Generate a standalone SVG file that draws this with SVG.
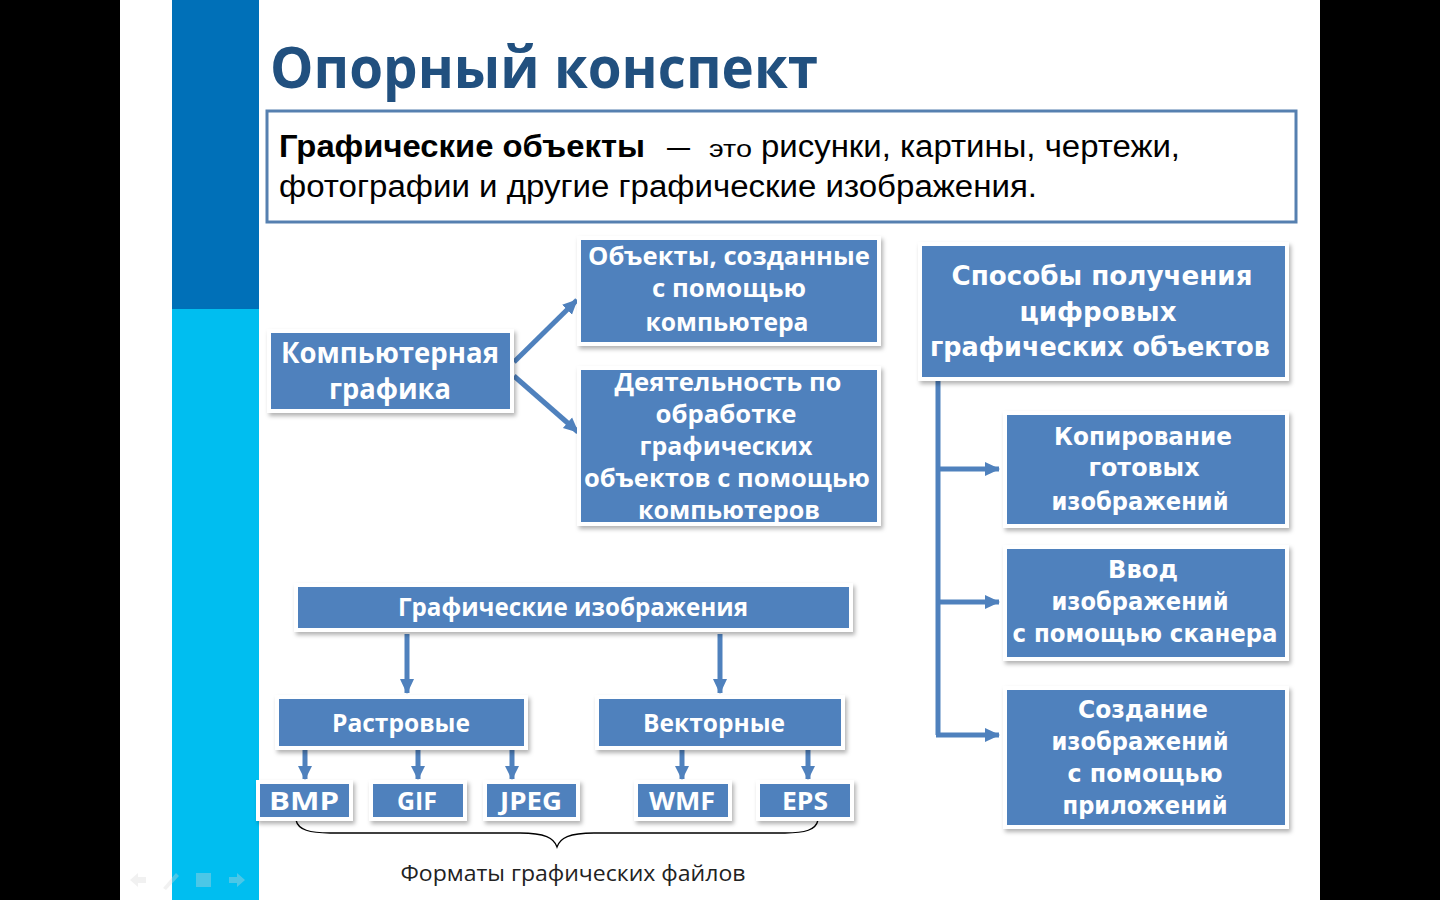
<svg xmlns="http://www.w3.org/2000/svg" width="1440" height="900" viewBox="0 0 1440 900">
<defs>
<filter id="sh" x="-10%" y="-20%" width="120%" height="150%">
<feDropShadow dx="2" dy="3" stdDeviation="2" flood-color="#000" flood-opacity="0.3"/>
</filter>
<marker id="ah" markerUnits="userSpaceOnUse" markerWidth="16" markerHeight="16" viewBox="0 0 16 16" refX="14" refY="8" orient="auto">
<path d="M0,1 L15,8 L0,15 Z" fill="#4F81BD"/>
</marker>
<marker id="ahs" markerUnits="userSpaceOnUse" markerWidth="16" markerHeight="16" viewBox="0 0 16 16" refX="14" refY="8" orient="auto">
<path d="M1,1 L15,8 L1,15 Z" fill="#4F81BD"/>
</marker>
</defs>
<style>
.frame{fill:#fff;filter:url(#sh)}
.box{fill:#4F81BD}
.t{font-family:"Open Sans","Liberation Sans",sans-serif;font-weight:bold;fill:#fff;text-anchor:middle}
.v{font-family:"DejaVu Sans","Liberation Sans",sans-serif;font-weight:bold;fill:#fff;text-anchor:middle}
.c{stroke:#4F81BD;stroke-width:5;fill:none}
.def{font-family:"Liberation Sans",Arial,sans-serif;fill:#000}
</style>
<rect x="0" y="0" width="1440" height="900" fill="#000"/>
<rect x="120" y="0" width="1200" height="900" fill="#fff"/>
<rect x="172" y="0" width="87" height="309" fill="#0070B8"/>
<rect x="172" y="309" width="87" height="591" fill="#00BEF0"/>
<g opacity="0.35" fill="#d8d8d8">
<path d="M130,880 L138,873 L138,877 L146,877 L146,883 L138,883 L138,887 Z"/>
<path d="M163,888 L176,873 L179,876 L166,890 Z"/>
<rect x="196" y="873" width="15" height="14"/>
<path d="M245,880 L237,873 L237,877 L229,877 L229,883 L237,883 L237,887 Z"/>
</g>
<text x="270" y="88" font-family="'Open Sans','Liberation Sans',sans-serif" font-weight="bold" font-size="58" fill="#21507F" textLength="548" lengthAdjust="spacingAndGlyphs">Опорный конспект</text>
<g id="definition">
<rect x="267" y="111" width="1029" height="111" fill="#fff" stroke="#5680B0" stroke-width="3"/>
<text class="def" x="279" y="157" font-size="31" font-weight="bold" textLength="366" lengthAdjust="spacingAndGlyphs">Графические объекты</text>
<text class="def" x="667" y="157" font-size="31" textLength="23" lengthAdjust="spacingAndGlyphs">—</text>
<text class="def" x="709" y="157" font-size="23" textLength="43" lengthAdjust="spacingAndGlyphs">это</text>
<text class="def" x="761" y="157" font-size="31" textLength="419" lengthAdjust="spacingAndGlyphs">рисунки,  картины,  чертежи,</text>
<text class="def" x="279" y="197" font-size="31" textLength="758" lengthAdjust="spacingAndGlyphs">фотографии  и другие  графические  изображения.</text>
</g>
<g id="connectors">
<line class="c" x1="514" y1="362" x2="577" y2="300" marker-end="url(#ah)"/>
<line class="c" x1="514" y1="376" x2="578" y2="432" marker-end="url(#ah)"/>
<line class="c" x1="407" y1="634" x2="407" y2="693" marker-end="url(#ah)"/>
<line class="c" x1="720" y1="634" x2="720" y2="693" marker-end="url(#ah)"/>
<line class="c" x1="305" y1="750" x2="305" y2="779" marker-end="url(#ahs)"/>
<line class="c" x1="418" y1="750" x2="418" y2="779" marker-end="url(#ahs)"/>
<line class="c" x1="512" y1="750" x2="512" y2="779" marker-end="url(#ahs)"/>
<line class="c" x1="682" y1="750" x2="682" y2="779" marker-end="url(#ahs)"/>
<line class="c" x1="808" y1="750" x2="808" y2="779" marker-end="url(#ahs)"/>
<path class="c" d="M938,381 L938,735"/>
<line class="c" x1="936" y1="469" x2="999" y2="469" marker-end="url(#ah)"/>
<line class="c" x1="936" y1="602" x2="999" y2="602" marker-end="url(#ah)"/>
<line class="c" x1="936" y1="735" x2="999" y2="735" marker-end="url(#ah)"/>
<path d="M296,820 C298,830 310,833 330,833 L520,833 C545,833 554,838 557,847 C560,838 569,833 594,833 L785,833 C805,833 816,830 818,820" fill="none" stroke="#000" stroke-width="1.3"/>
</g>
<g id="n-kg">
<rect class="frame" x="267" y="329" width="247" height="84"/>
<rect class="box" x="271" y="333" width="239" height="76"/>
<text class="t" x="390" y="363" font-size="28" textLength="218" lengthAdjust="spacingAndGlyphs">Компьютерная</text>
<text class="t" x="390" y="399" font-size="28" textLength="122" lengthAdjust="spacingAndGlyphs">графика</text>
</g>
<g id="n-obj">
<rect class="frame" x="577" y="236" width="304" height="110"/>
<rect class="box" x="581" y="240" width="296" height="102"/>
<text class="t" x="729" y="265" font-size="25" textLength="282" lengthAdjust="spacingAndGlyphs">Объекты, созданные</text>
<text class="t" x="729" y="297" font-size="25" textLength="154" lengthAdjust="spacingAndGlyphs">с помощью</text>
<text class="t" x="727" y="331" font-size="25" textLength="163" lengthAdjust="spacingAndGlyphs">компьютера</text>
</g>
<g id="n-act">
<rect class="frame" x="577" y="366" width="304" height="160"/>
<rect class="box" x="581" y="370" width="296" height="152"/>
<text class="t" x="728" y="391" font-size="25" textLength="227" lengthAdjust="spacingAndGlyphs">Деятельность по</text>
<text class="t" x="726" y="423" font-size="25" textLength="141" lengthAdjust="spacingAndGlyphs">обработке</text>
<text class="t" x="726" y="455" font-size="25" textLength="173" lengthAdjust="spacingAndGlyphs">графических</text>
<text class="t" x="727" y="487" font-size="25" textLength="286" lengthAdjust="spacingAndGlyphs">объектов с помощью</text>
<text class="t" x="729" y="519" font-size="25" textLength="182" lengthAdjust="spacingAndGlyphs">компьютеров</text>
</g>
<g id="n-ways">
<rect class="frame" x="918" y="242" width="371" height="139"/>
<rect class="box" x="922" y="246" width="363" height="131"/>
<text class="v" x="1102" y="285" font-size="26" textLength="301" lengthAdjust="spacingAndGlyphs">Способы получения</text>
<text class="v" x="1098" y="321" font-size="26" textLength="157" lengthAdjust="spacingAndGlyphs">цифровых</text>
<text class="v" x="1100" y="356" font-size="26" textLength="340" lengthAdjust="spacingAndGlyphs">графических объектов</text>
</g>
<g id="n-copy">
<rect class="frame" x="1003" y="411" width="286" height="117"/>
<rect class="box" x="1007" y="415" width="278" height="109"/>
<text class="v" x="1143" y="445" font-size="24" textLength="178" lengthAdjust="spacingAndGlyphs">Копирование</text>
<text class="v" x="1144" y="476" font-size="24" textLength="111" lengthAdjust="spacingAndGlyphs">готовых</text>
<text class="v" x="1140" y="510" font-size="24" textLength="177" lengthAdjust="spacingAndGlyphs">изображений</text>
</g>
<g id="n-scan">
<rect class="frame" x="1003" y="545" width="286" height="116"/>
<rect class="box" x="1007" y="549" width="278" height="108"/>
<text class="v" x="1143" y="578" font-size="24" textLength="70" lengthAdjust="spacingAndGlyphs">Ввод</text>
<text class="v" x="1140" y="610" font-size="24" textLength="177" lengthAdjust="spacingAndGlyphs">изображений</text>
<text class="v" x="1145" y="642" font-size="24" textLength="265" lengthAdjust="spacingAndGlyphs">с помощью сканера</text>
</g>
<g id="n-create">
<rect class="frame" x="1003" y="686" width="286" height="143"/>
<rect class="box" x="1007" y="690" width="278" height="135"/>
<text class="v" x="1143" y="718" font-size="24" textLength="130" lengthAdjust="spacingAndGlyphs">Создание</text>
<text class="v" x="1140" y="750" font-size="24" textLength="177" lengthAdjust="spacingAndGlyphs">изображений</text>
<text class="v" x="1145" y="782" font-size="24" textLength="155" lengthAdjust="spacingAndGlyphs">с помощью</text>
<text class="v" x="1145" y="814" font-size="24" textLength="165" lengthAdjust="spacingAndGlyphs">приложений</text>
</g>
<g id="n-gi">
<rect class="frame" x="294" y="583" width="559" height="49"/>
<rect class="box" x="298" y="587" width="551" height="41"/>
<text class="t" x="573" y="616" font-size="25" textLength="350" lengthAdjust="spacingAndGlyphs">Графические изображения</text>
</g>
<g id="n-raster">
<rect class="frame" x="275" y="695" width="253" height="55"/>
<rect class="box" x="279" y="699" width="245" height="47"/>
<text class="t" x="401" y="732" font-size="25" textLength="138" lengthAdjust="spacingAndGlyphs">Растровые</text>
</g>
<g id="n-vector">
<rect class="frame" x="595" y="695" width="250" height="55"/>
<rect class="box" x="599" y="699" width="242" height="47"/>
<text class="t" x="714" y="732" font-size="25" textLength="142" lengthAdjust="spacingAndGlyphs">Векторные</text>
</g>
<g id="n-bmp">
<rect class="frame" x="256" y="780" width="97" height="41"/>
<rect class="box" x="260" y="784" width="89" height="33"/>
<text class="t" x="304" y="810" font-size="25" textLength="70" lengthAdjust="spacingAndGlyphs">BMP</text>
</g>
<g id="n-gif">
<rect class="frame" x="369" y="780" width="98" height="41"/>
<rect class="box" x="373" y="784" width="90" height="33"/>
<text class="t" x="417" y="810" font-size="25" textLength="40" lengthAdjust="spacingAndGlyphs">GIF</text>
</g>
<g id="n-jpeg">
<rect class="frame" x="483" y="780" width="97" height="41"/>
<rect class="box" x="487" y="784" width="89" height="33"/>
<text class="t" x="531" y="810" font-size="25" textLength="62" lengthAdjust="spacingAndGlyphs">JPEG</text>
</g>
<g id="n-wmf">
<rect class="frame" x="634" y="780" width="98" height="41"/>
<rect class="box" x="638" y="784" width="90" height="33"/>
<text class="t" x="682" y="810" font-size="25" textLength="66" lengthAdjust="spacingAndGlyphs">WMF</text>
</g>
<g id="n-eps">
<rect class="frame" x="756" y="780" width="98" height="41"/>
<rect class="box" x="760" y="784" width="90" height="33"/>
<text class="t" x="805" y="810" font-size="25" textLength="46" lengthAdjust="spacingAndGlyphs">EPS</text>
</g>
<text x="573" y="881" font-family="'Open Sans','Liberation Sans',sans-serif" font-size="22" fill="#222" text-anchor="middle" textLength="345" lengthAdjust="spacingAndGlyphs">Форматы графических файлов</text>
</svg>
